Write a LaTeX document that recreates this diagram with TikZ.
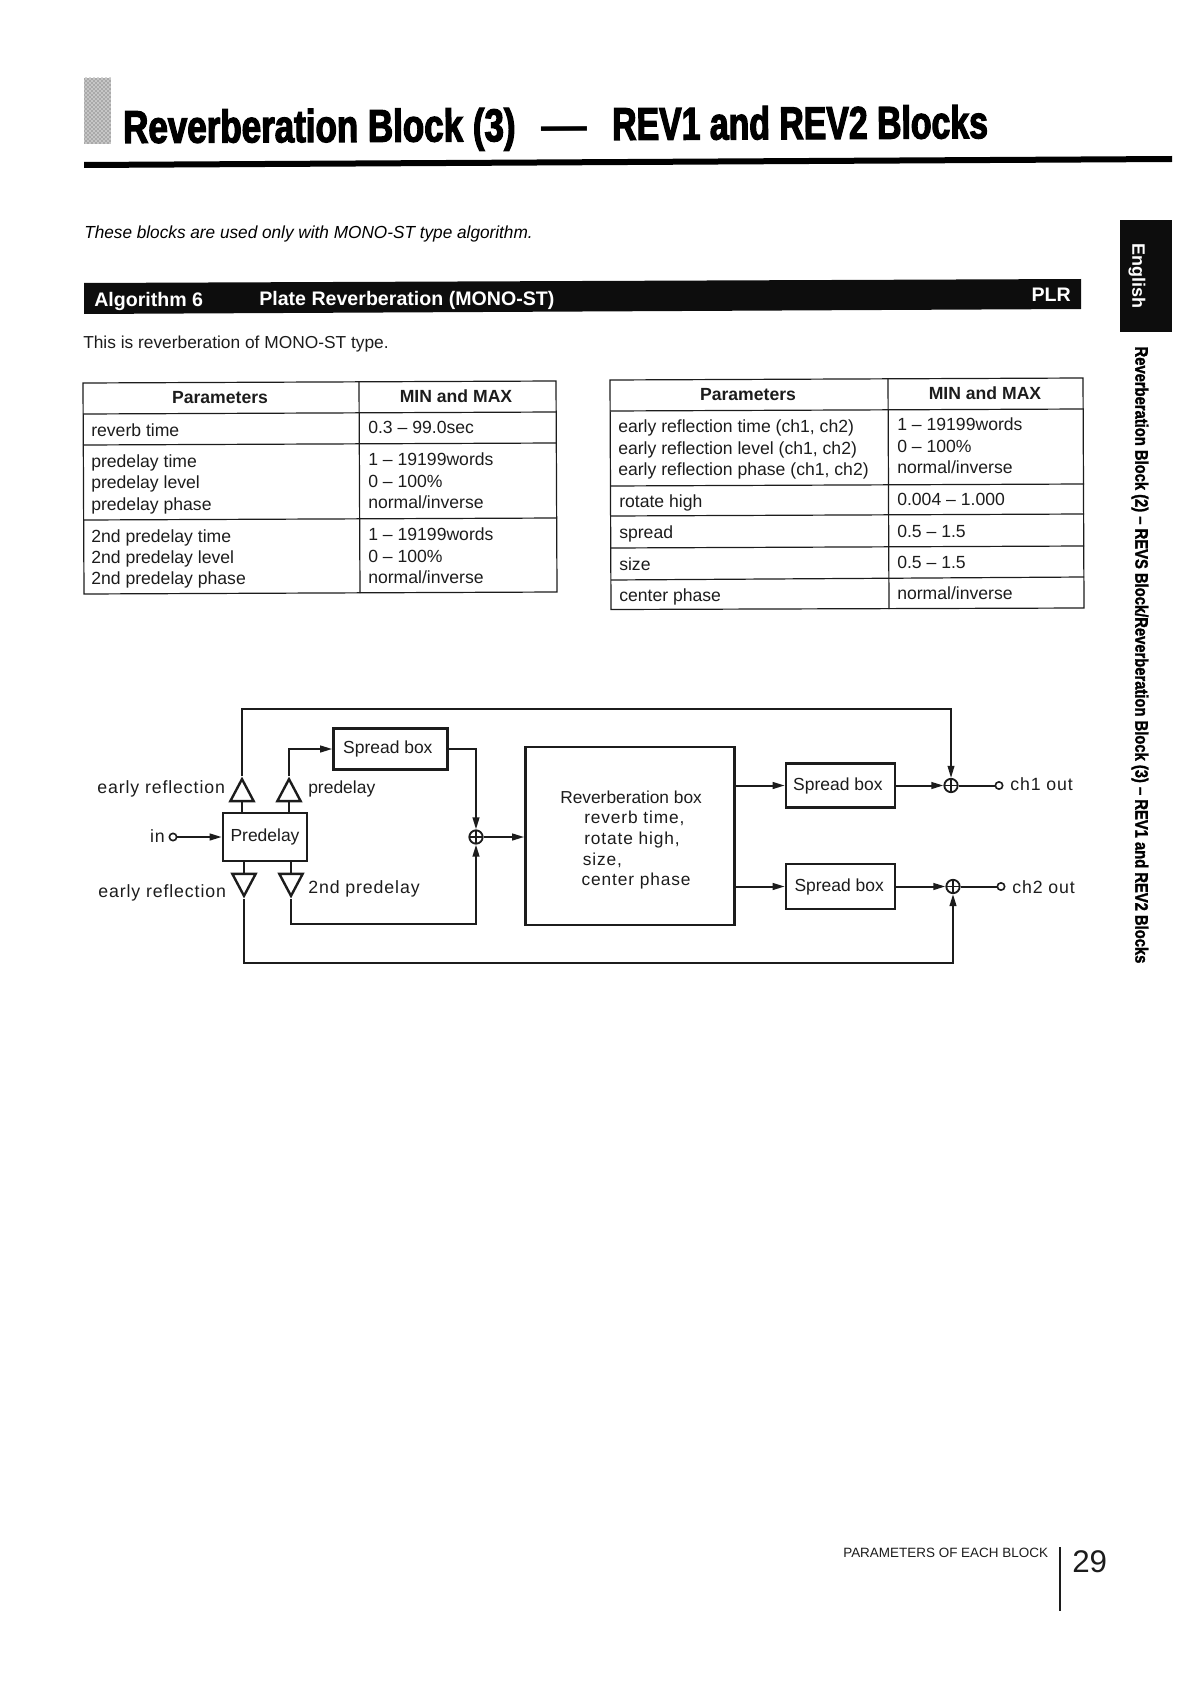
\documentclass[tikz,border=0pt]{standalone}
\usepackage{fontspec}
\setmainfont{Liberation Sans}
\newfontfamily\heavy[BoldFeatures={FakeStretch=0.76,FakeBold=2.6}]{Liberation Sans}
\newfontfamily\heavyb[BoldFeatures={FakeStretch=0.735,FakeBold=2.6}]{Liberation Sans}
\newfontfamily\sidefont[BoldFeatures={FakeStretch=0.82,FakeBold=1.6}]{Liberation Sans}
\newfontfamily\spaced[LetterSpace=5]{Liberation Sans}
\newfontfamily\introfont[ItalicFeatures={FakeStretch=0.985}]{Liberation Sans}
\usetikzlibrary{arrows.meta,shapes.geometric,patterns}
\definecolor{ink}{HTML}{1C1C1C}
\tikzset{
  x=0.75pt,y=-0.75pt,
  tbl/.style={line width=0.9pt,draw=ink},
  cell/.style={anchor=base west,inner sep=0pt,text=ink,font=\fontsize{13.2}{15}\selectfont},
  head/.style={anchor=base,inner sep=0pt,text=ink,font=\fontsize{13.2}{15}\selectfont\bfseries},
  box/.style={draw=ink,line width=1.9pt,fill=white,inner sep=0pt,text=ink,font=\fontsize{13.1}{15}\selectfont},
  lab/.style={inner sep=0pt,text=ink,font=\fontsize{13.3}{15}\selectfont\spaced},
  conn/.style={draw=ink,line width=1.5pt},
  arr/.style={conn,-{Triangle[length=9pt,width=5pt]}},
  tri/.style={draw=ink,line width=1.8pt,fill=white,isosceles triangle,isosceles triangle stretches=true,
     minimum width=17.5pt,minimum height=16.5pt,inner sep=0pt,anchor=apex},
  sumnode/.style={circle,draw=ink,line width=1.4pt,fill=white,minimum size=10pt,inner sep=0pt,
     path picture={\draw[line width=0.9pt,draw=ink] (path picture bounding box.north)--(path picture bounding box.south)
       (path picture bounding box.west)--(path picture bounding box.east);}},
  term/.style={circle,draw=ink,line width=1.2pt,fill=white,minimum size=5.5pt,inner sep=0pt},
  bartext/.style={inner sep=0pt,text=white,font=\fontsize{14.7}{16}\selectfont\bfseries,anchor=west},
  titletext/.style={inner sep=0pt,anchor=base west,rotate=0.27,font=\fontsize{34.5}{40}\selectfont\heavy\bfseries}
}
\begin{document}
\begin{tikzpicture}
\useasboundingbox (0,0) rectangle (1191,1683);
% header
\fill[gray!45] (84,78) rectangle (111,144);
\fill[pattern=crosshatch dots,pattern color=black!70] (84,78) rectangle (111,144);
\node[titletext] (t1) at (123,143) {Reverberation Block (3)};
\node[titletext,font=\fontsize{34.5}{40}\selectfont\bfseries] (t2) at (541,141.5) {—};
\node[titletext,font=\fontsize{34.5}{40}\selectfont\heavyb\bfseries] (t3) at (612,140) {REV1 and REV2 Blocks};
\fill[black] (84,162) -- (1172,156) -- (1172,162) -- (84,168) -- cycle;
\node[anchor=base west,inner sep=0pt,font=\fontsize{13.1}{15}\selectfont\introfont\itshape] (intro) at (84,239) {These blocks are used only with MONO-ST type algorithm.};
% bar
\fill[black!95] (84,283) -- (1081,279) -- (1081,309) -- (84,314) -- cycle;
\node[bartext] (algo) at (94,301) {Algorithm 6};
\node[bartext] (plate) at (259,300) {Plate Reverberation (MONO-ST)};
\node[bartext,anchor=east] (plr) at (1071,295) {PLR};
\node[anchor=base west,inner sep=0pt,text=ink,font=\fontsize{13}{15}\selectfont] (thisis) at (83,349) {This is reverberation of MONO-ST type.};
% side tab
\fill[black!95] (1120,220) rectangle (1172,332);
\node[rotate=-90,inner sep=0pt,text=white,font=\fontsize{13.5}{16}\selectfont\bfseries] (eng) at (1137,276) {English};
\node[rotate=-90,inner sep=0pt,font=\fontsize{13.5}{16}\selectfont\sidefont\bfseries] (side) at (1140,655) {Reverberation Block (2) – REVS Block/Reverberation Block (3) – REV1 and REV2 Blocks};
% table 1
\draw[tbl] (83,383) -- (556,381) -- (557,592) -- (84,594) -- cycle;
\draw[tbl] (359,382) -- (360,593);
\draw[tbl] (83,414) -- (556,412);
\draw[tbl] (83,445) -- (556,443);
\draw[tbl] (84,520) -- (557,518);
\node[head] (h1) at (220,403) {Parameters};
\node[head] (h2) at (456,402) {MIN and MAX};
\node[cell] (a1) at (91,436) {reverb time};
\node[cell] (a2) at (91,467) {predelay time};
\node[cell] (a3) at (91,488) {predelay level};
\node[cell] (a4) at (91,510) {predelay phase};
\node[cell] (a5) at (91,542) {2nd predelay time};
\node[cell] (a6) at (91,563) {2nd predelay level};
\node[cell] (a7) at (91,584) {2nd predelay phase};
\node[cell] (b1) at (368,433) {0.3 – 99.0sec};
\node[cell] (b2) at (368,465) {1 – 19199words};
\node[cell] (b3) at (368,487) {0 – 100\%};
\node[cell] (b4) at (368,508) {normal/inverse};
\node[cell] (b5) at (368,540) {1 – 19199words};
\node[cell] (b6) at (368,562) {0 – 100\%};
\node[cell] (b7) at (368,583) {normal/inverse};
% table 2
\draw[tbl] (610,380) -- (1083,378) -- (1084,608) -- (611,609.5) -- cycle;
\draw[tbl] (888,379) -- (889,609);
\draw[tbl] (610,411) -- (1083,409);
\draw[tbl] (610,486) -- (1084,484);
\draw[tbl] (611,516) -- (1084,514);
\draw[tbl] (611,548) -- (1084,546);
\draw[tbl] (611,580) -- (1084,577);
\node[head] (h3) at (748,400) {Parameters};
\node[head] (h4) at (985,399) {MIN and MAX};
\node[cell] (c1) at (618,432) {early reflection time (ch1, ch2)};
\node[cell] (c2) at (618,454) {early reflection level (ch1, ch2)};
\node[cell] (c3) at (618,475) {early reflection phase (ch1, ch2)};
\node[cell] (c4) at (619,507) {rotate high};
\node[cell] (c5) at (619,538) {spread};
\node[cell] (c6) at (619,570) {size};
\node[cell] (c7) at (619,601) {center phase};
\node[cell] (d1) at (897,430) {1 – 19199words};
\node[cell] (d2) at (897,452) {0 – 100\%};
\node[cell] (d3) at (897,473) {normal/inverse};
\node[cell] (d4) at (897,505) {0.004 – 1.000};
\node[cell] (d5) at (897,537) {0.5 – 1.5};
\node[cell] (d6) at (897,568) {0.5 – 1.5};
\node[cell] (d7) at (897,599) {normal/inverse};
% diagram nodes
\node[box,minimum width={84*0.75pt},minimum height={48*0.75pt}] (pd) at (265,837) {Predelay};
\node[box,minimum width={114*0.75pt},minimum height={41*0.75pt}] (sp1) at (390.5,749) {\raisebox{-1.5pt}{Spread box}\hspace*{4pt}};
\node[draw=ink,line width=1.9pt,fill=white,minimum width={209*0.75pt},minimum height={178*0.75pt}] (rev) at (630,836) {};
\node[box,minimum width={109*0.75pt},minimum height={44*0.75pt}] (sp2) at (840.5,785.5) {Spread box\hspace*{4pt}};
\node[box,minimum width={109*0.75pt},minimum height={45*0.75pt}] (sp3) at (840.5,886.5) {Spread box\hspace*{2pt}};
\node[tri,shape border rotate=90] (g1) at (242,776) {};
\node[tri,shape border rotate=90] (g2) at (289,776) {};
\node[tri,shape border rotate=-90] (g3) at (244,899) {};
\node[tri,shape border rotate=-90] (g4) at (291,899) {};
\node[sumnode] (s1) at (476,837) {};
\node[sumnode] (s2) at (951,785.5) {};
\node[sumnode] (s3) at (953,886.5) {};
\node[term] (in) at (173,837) {};
\node[term] (o1) at (999,785.5) {};
\node[term] (o2) at (1001,886.5) {};
\coordinate (tl) at (242,709);
\coordinate (tr) at (951,709);
\coordinate (bl) at (244,963);
\coordinate (br) at (953,963);
\coordinate (ml) at (291,924);
\coordinate (mr) at (476,924);
% labels
\node[lab,anchor=west] (l1) at (97,789) {early reflection};
\node[lab,anchor=west] (l2) at (98,893) {early reflection};
\node[lab,anchor=east] (l3) at (165,836) {in};
\node[lab,anchor=west,font=\fontsize{13.1}{15}\selectfont] (l4) at (308,789) {predelay};
\node[lab,anchor=west] (l5) at (308,889) {2nd predelay};
\node[lab,anchor=west] (l6) at (1010,784) {ch1 out};
\node[lab,anchor=west] (l7) at (1012,887) {ch2 out};
\node[inner sep=0pt,text=ink,align=left,anchor=west,font=\fontsize{13}{15.4}\selectfont] (revt) at (560,840)
  {Reverberation box\\ \hspace*{18pt}{\spaced reverb time,}\\ \hspace*{18pt}{\spaced rotate high,}\\ \hspace*{17pt}{\spaced size,}\\ \hspace*{16pt}{\spaced center phase}};
% connectors
\draw[arr] (in) -- (pd.west);
\draw[conn] (g1.lower side) -- (g1.lower side |- pd.north);
\draw[conn] (g2.lower side) -- (g2.lower side |- pd.north);
\draw[conn] (g3.lower side) -- (g3.lower side |- pd.south);
\draw[conn] (g4.lower side) -- (g4.lower side |- pd.south);
\draw[arr] (g2.apex) |- (sp1.west);
\draw[arr] (sp1.east) -| (s1.north);
\draw[arr] (g4.apex) -- (ml) -- (mr) -- (s1.south);
\draw[arr] (s1.east) -- (rev.west |- s1.east);
\draw[arr,line width=1.2pt] (g1.apex) -- (tl) -- (tr) -- (s2.north);
\draw[arr] (g3.apex) -- (bl) -- (br) -- (s3.south);
\draw[arr] (rev.east |- sp2.west) -- (sp2.west);
\draw[arr] (rev.east |- sp3.west) -- (sp3.west);
\draw[arr] (sp2.east) -- (s2.west);
\draw[arr] (sp3.east) -- (s3.west);
\draw[conn] (s2.east) -- (o1);
\draw[conn] (s3.east) -- (o2);
% footer
\node[inner sep=0pt,anchor=west,text=ink,font=\fontsize{10.1}{12}\selectfont] (foot) at (843,1553) {PARAMETERS OF EACH BLOCK};
\coordinate (fa) at (1060,1547);
\coordinate (fb) at (1060,1611);
\draw[draw=ink,line width=0.9pt] (fa) -- (fb);
\node[inner sep=0pt,anchor=base west,text=ink,font=\fontsize{23.5}{26}\selectfont] (pg) at (1072,1572) {29};
\end{tikzpicture}
\end{document}
